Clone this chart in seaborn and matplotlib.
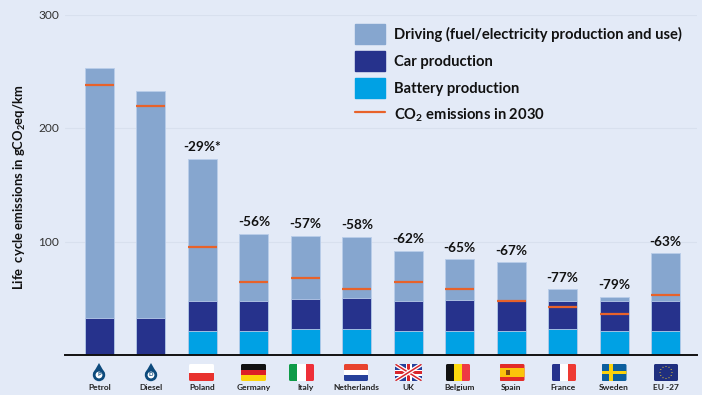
import numpy as np
import seaborn as sns
import matplotlib.pyplot as plt
from matplotlib.lines import Line2D
from matplotlib.patches import Circle, FancyBboxPatch, Patch, Polygon, Rectangle

countries = ["Petrol", "Diesel", "Poland", "Germany", "Italy", "Netherlands",
             "UK", "Belgium", "Spain", "France", "Sweden", "EU -27"]
battery = np.array([0, 0, 21, 21, 23, 22.5, 21, 21, 21, 23, 21, 21])
car = np.array([33, 33, 27, 27, 26, 27.5, 27, 27.5, 27, 25, 26.5, 27])
driving = np.array([220, 200, 125, 59, 56, 54, 44, 36, 33.5, 10, 4, 41.5])
co2_2030 = [238, 219, 95, 64, 68, 58, 64.5, 58, 48, 42, 36.5, 53]
reduction = [None, None, "-29%*", "-56%", "-57%", "-58%", "-62%", "-65%", "-67%", "-77%", "-79%", "-63%"]
y_ticks = [100, 200, 300]

BG = "#e3eaf7"
C_DRIVING = "#86a6cf"
C_CAR = "#26328c"
C_BATTERY = "#00a1e4"
C_LINE = "#e8622a"
INK = "#111111"

sns.set_theme(style="white")
plt.rcParams["font.family"] = ["Lato", "DejaVu Sans"]
plt.rcParams["mathtext.fontset"] = "custom"
plt.rcParams["mathtext.rm"] = "Lato"
plt.rcParams["mathtext.bf"] = "Lato:bold"
plt.rcParams["mathtext.default"] = "bf"

fig = plt.figure(figsize=(7.02, 3.95), dpi=100, facecolor=BG)
ax = fig.add_axes([65 / 702, 40 / 395, 632 / 702, 340.5 / 395], facecolor=BG)

bar_w = 29 / 51.45
edge = dict(edgecolor="#b9cdea", linewidth=0.6)
# tallest first, the shorter layers paint over it
sns.barplot(x=countries, y=battery + car + driving, color=C_DRIVING, saturation=1,
            width=bar_w, ax=ax, zorder=3, **edge)
sns.barplot(x=countries, y=battery + car, color=C_CAR, saturation=1,
            width=bar_w, ax=ax, zorder=3, **edge)
sns.barplot(x=countries, y=battery, color=C_BATTERY, saturation=1,
            width=bar_w, ax=ax, zorder=3, **edge)

ax.hlines(co2_2030, np.arange(12) - bar_w / 2, np.arange(12) + bar_w / 2,
          color=C_LINE, linewidth=1.6, zorder=4)

totals = battery + car + driving
for i, lab in enumerate(reduction):
    if lab:
        ax.annotate(lab, (i, totals[i]), xytext=(0, 4), textcoords="offset points",
                    ha="center", va="bottom", fontsize=9.8, fontweight="bold", color=INK)

ax.set_xlim(-0.67, 11.61)
ax.set_ylim(0, 300)
ax.set_yticks(y_ticks)
ax.yaxis.grid(True, color="#d8e0ee", linewidth=0.8)
ax.set_axisbelow(True)
ax.tick_params(axis="y", length=0, labelsize=8.6, pad=4, labelcolor="#333333")
ax.tick_params(axis="x", length=0, labelsize=6, pad=21)
for t in ax.get_xticklabels():
    t.set_fontweight("bold")
    t.set_color("#222222")
for s in ["top", "left", "right"]:
    ax.spines[s].set_visible(False)
ax.spines["bottom"].set_color("#111111")
ax.spines["bottom"].set_linewidth(1.4)
ax.spines["bottom"].set_zorder(5)
ax.set_xlabel("")
fig.text(20 / 702, 1 - 187 / 395, "Life  cycle emissions in gCO$_2$eq/km", rotation=90,
         ha="center", va="center", fontsize=9.4, fontweight="bold", color=INK)

handles = [Patch(color=C_DRIVING), Patch(color=C_CAR), Patch(color=C_BATTERY),
           Line2D([], [], color=C_LINE, linewidth=1.6)]
labels = ["Driving (fuel/electricity production and use)", "Car production",
          "Battery production", "CO$_2$ emissions in 2030"]
leg = ax.legend(handles, labels, loc="upper left", bbox_to_anchor=(355 / 702, 1 - 24 / 395),
                bbox_transform=fig.transFigure, frameon=False, fontsize=10.6,
                handlelength=2.05, handleheight=1.75, handletextpad=0.62,
                labelspacing=0.44, borderaxespad=0, borderpad=0)
for t in leg.get_texts():
    t.set_fontweight("bold")
    t.set_color(INK)

# overlay in pixels for the flags and fuel drops under the axis
ov = fig.add_axes([0, 0, 1, 1], facecolor="none", zorder=6)
ov.set_xlim(0, 702)
ov.set_ylim(395, 0)
ov.axis("off")


def flag(cx, parts, w=25, h=17, top=364):
    x0 = cx - w / 2
    clip = FancyBboxPatch((x0 + 1.5, top + 1.5), w - 3, h - 3, boxstyle="round,pad=1.5",
                          transform=ov.transData, facecolor="none", edgecolor="none")
    ov.add_patch(clip)
    for fx, fy, fw, fh, col in parts:
        r = Rectangle((x0 + fx * w, top + fy * h), fw * w, fh * h, color=col, linewidth=0)
        ov.add_patch(r)
        r.set_clip_path(clip)
    return x0, top, clip


def horiz(cols):
    n = len(cols)
    return [(0, i / n, 1, 1 / n + 0.01, c) for i, c in enumerate(cols)]


def vert(cols):
    n = len(cols)
    return [(i / n, 0, 1 / n + 0.01, 1, c) for i, c in enumerate(cols)]


flag(201.5, horiz(["#ffffff", "#e8322e"]))
flag(253.5, horiz(["#111111", "#dd1f26", "#fcd20a"]))
flag(301.5, vert(["#0f9b48", "#ffffff", "#ee2f38"]))
flag(356, horiz(["#e8432e", "#ffffff", "#26409a"]), w=24)
flag(458, vert(["#111111", "#fcd90f", "#ee3a43"]), w=24)
flag(512, [(0, 0, 1, 1, "#e22c28"), (0, 0.25, 1, 0.5, "#fbc50b"), (0.25, 0.38, 0.16, 0.26, "#7a4a12")])
flag(564, vert(["#26328c", "#ffffff", "#ee3a33"]), w=24)
flag(614, [(0, 0, 1, 1, "#0d5f9e"), (0, 0.4, 1, 0.2, "#fcd20a"), (0.3, 0, 0.16, 1, "#fcd20a")])

x0, y0, clip = flag(408.5, [(0, 0, 1, 1, "#26409a")], w=27)
for a, b in [((0, 0), (27, 17)), ((0, 17), (27, 0))]:
    ln, = ov.plot([x0 + a[0], x0 + b[0]], [y0 + a[1], y0 + b[1]], color="#ffffff", lw=3, solid_capstyle="butt")
    ln.set_clip_path(clip)
    ln, = ov.plot([x0 + a[0], x0 + b[0]], [y0 + a[1], y0 + b[1]], color="#d8262c", lw=1.1, solid_capstyle="butt")
    ln.set_clip_path(clip)
ov.add_patch(Rectangle((x0, y0 + 5.5), 27, 6, color="#ffffff", lw=0))
ov.add_patch(Rectangle((x0 + 10.5, y0), 6, 17, color="#ffffff", lw=0))
ov.add_patch(Rectangle((x0, y0 + 7), 27, 3, color="#d8262c", lw=0))
ov.add_patch(Rectangle((x0 + 12, y0), 3, 17, color="#d8262c", lw=0))

x0, y0, clip = flag(666, [(0, 0, 1, 1, "#1f2f7f")], w=24)
for ang in np.arange(0, 360, 30):
    ov.add_patch(Circle((666 + 6 * np.cos(np.radians(ang)), y0 + 8.5 + 6 * np.sin(np.radians(ang))),
                        0.55, color="#e8c832", lw=0))

for cx, letter in [(99, "P"), (151, "D")]:
    ov.add_patch(Polygon([(cx, 363), (cx - 6, 373.5), (cx + 6, 373.5)], color="#0d4a7c", lw=0))
    ov.add_patch(Circle((cx, 375), 6.2, color="#0d4a7c", lw=0))
    ov.add_patch(Circle((cx, 375), 3.4, color="#ffffff", lw=0))
    ov.text(cx, 375, letter, ha="center", va="center", fontsize=4.2, fontweight="bold", color="#0d4a7c")

plt.savefig("out.png", dpi=100, facecolor=BG)
